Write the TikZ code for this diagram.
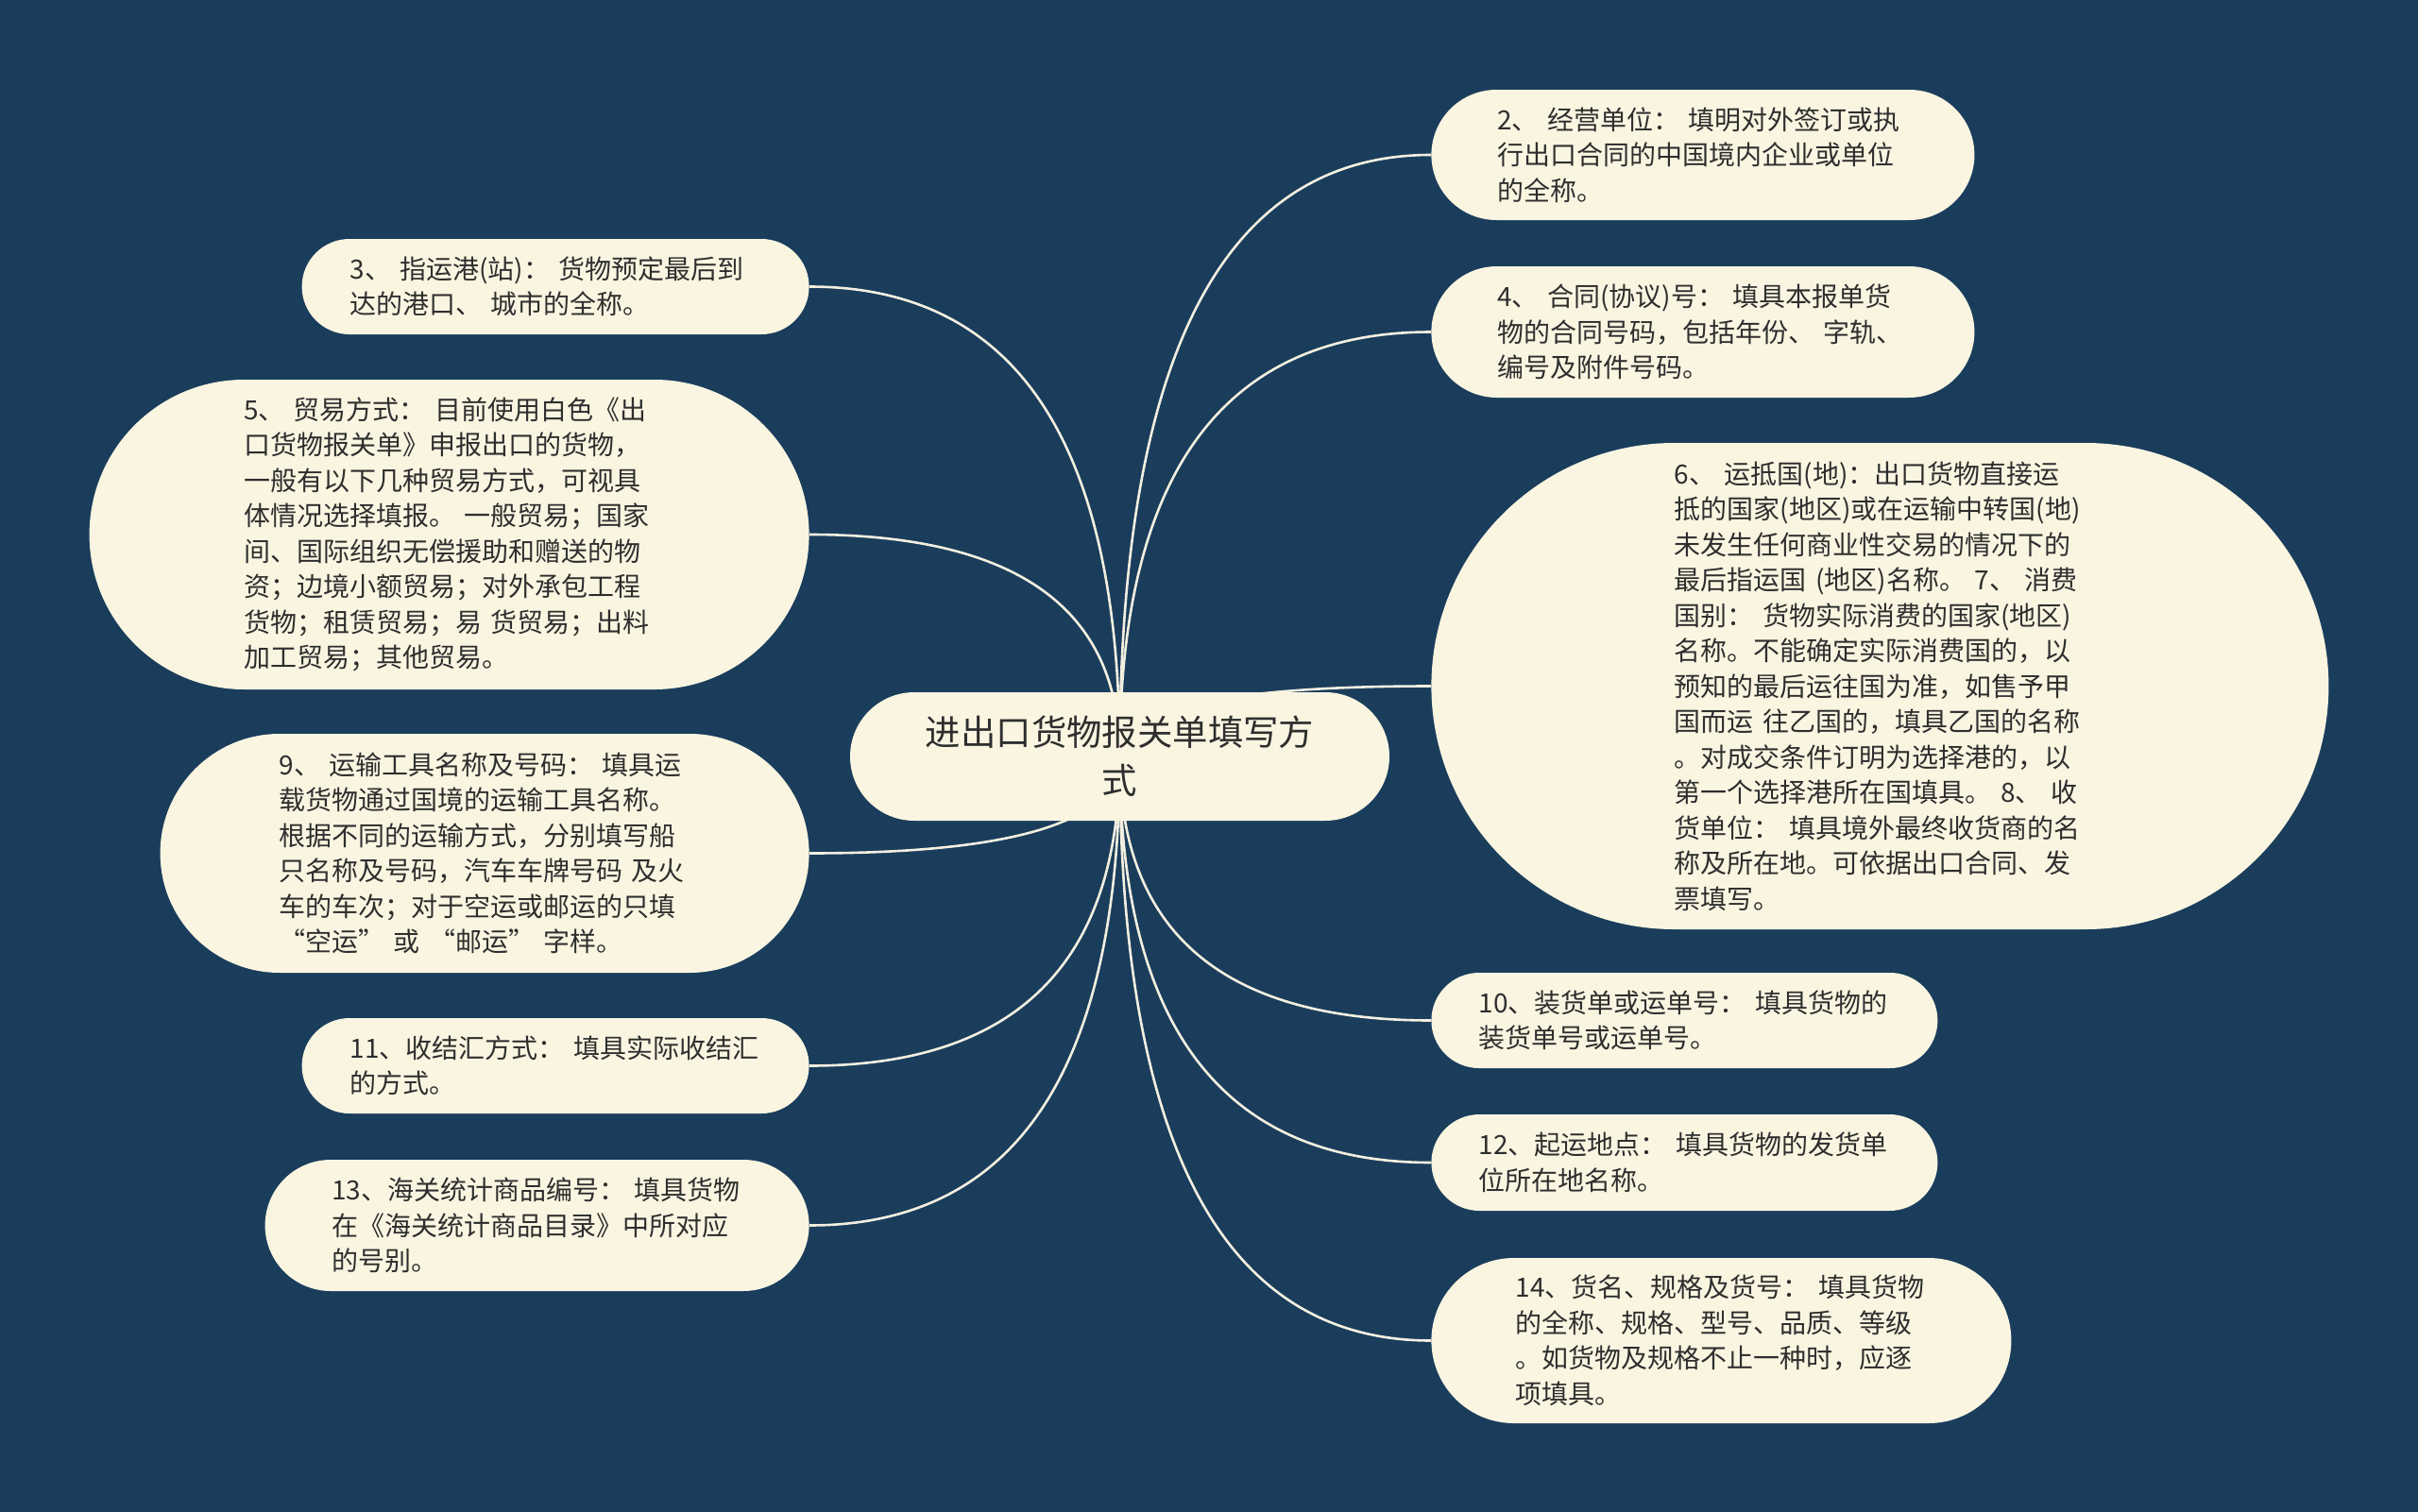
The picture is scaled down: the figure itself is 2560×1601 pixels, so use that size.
\documentclass[tikz,border=0pt]{standalone}
\usepackage{fontspec}
\usepackage{tikz}
\usetikzlibrary{calc}
\newfontfamily\cjk{Noto Sans CJK SC}
\definecolor{diagrambg}{HTML}{1A3D5C}
\definecolor{diagramfill}{HTML}{FAF5E1}
\definecolor{diagramtext}{HTML}{2E2E2E}
\definecolor{diagramline}{HTML}{F3EFE0}
\pgfdeclarelayer{diagramback}
\pgfdeclarelayer{diagramlinks}
\pgfsetlayers{diagramback,diagramlinks,main}
\tikzset{
    diagramroot/.style={rectangle, fill=diagramfill, text=diagramtext, align=center, text width=217.5pt, inner sep=0pt, minimum width=285.5pt, minimum height=68pt, rounded corners=34pt, font=\cjk\fontsize{18.7pt}{25.3pt}\selectfont},
    diagramleaf/.style={rectangle, fill=diagramfill, text=diagramtext, align=left, text width=217.5pt, inner sep=0pt, font=\cjk\fontsize{14pt}{18.75pt}\selectfont},
    diagramlink/.style={draw=diagramline, line width=1.3pt}
}

\begin{document}
\begin{tikzpicture}[x=0.5pt, y=-0.5pt]
        \begin{pgfonlayer}{diagramback}
            \fill[diagrambg] (0,0) rectangle (2560,1601);
        \end{pgfonlayer}
        \node[diagramroot] (root) at (1185.5,801) {进出口货物报关单填写方\\式};
        % right side
        \node[diagramleaf, anchor=west, minimum width=287.5pt, minimum height=69pt, rounded corners=34.5pt] (n2) at (1515,164) {2、 经营单位： 填明对外签订或执\\行出口合同的中国境内企业或单位\\的全称。};
        \node[diagramleaf, anchor=west, minimum width=287.5pt, minimum height=69.5pt, rounded corners=34.75pt] (n4) at (1515,351.5) {4、 合同(协议)号： 填具本报单货\\物的合同号码，包括年份、 字轨、\\编号及附件号码。};
        \node[diagramleaf, anchor=west, minimum width=475pt, minimum height=257.5pt, rounded corners=128.75pt] (n6) at (1515,726.5) {6、 运抵国(地)：出口货物直接运\\抵的国家(地区)或在运输中转国(地)\\未发生任何商业性交易的情况下的\\最后指运国 (地区)名称。 7、 消费\\国别： 货物实际消费的国家(地区)\\名称。不能确定实际消费国的，以\\预知的最后运往国为准，如售予甲\\国而运 往乙国的，填具乙国的名称\\。对成交条件订明为选择港的，以\\第一个选择港所在国填具。 8、 收\\货单位： 填具境外最终收货商的名\\称及所在地。可依据出口合同、发\\票填写。};
        \node[diagramleaf, anchor=west, minimum width=268pt, minimum height=50.5pt, rounded corners=25.25pt] (n10) at (1515,1080.5) {10、装货单或运单号： 填具货物的\\装货单号或运单号。};
        \node[diagramleaf, anchor=west, minimum width=268pt, minimum height=51pt, rounded corners=25.5pt] (n12) at (1515,1231) {12、起运地点： 填具货物的发货单\\位所在地名称。};
        \node[diagramleaf, anchor=west, minimum width=307pt, minimum height=87.5pt, rounded corners=43.75pt] (n14) at (1515,1419.5) {14、货名、规格及货号： 填具货物\\的全称、规格、型号、品质、等级\\。如货物及规格不止一种时，应逐\\项填具。};
        % left side
        \node[diagramleaf, anchor=east, minimum width=268.5pt, minimum height=50.5pt, rounded corners=25.25pt] (n3) at (857,303.5) {3、 指运港(站)： 货物预定最后到\\达的港口、 城市的全称。};
        \node[diagramleaf, anchor=east, minimum width=381pt, minimum height=164pt, rounded corners=82pt] (n5) at (857,566) {5、 贸易方式： 目前使用白色《出\\口货物报关单》申报出口的货物，\\一般有以下几种贸易方式，可视具\\体情况选择填报。 一般贸易；国家\\间、国际组织无偿援助和赠送的物\\资；边境小额贸易；对外承包工程\\货物；租赁贸易；易 货贸易；出料\\加工贸易；其他贸易。};
        \node[diagramleaf, anchor=east, minimum width=343.5pt, minimum height=126.5pt, rounded corners=63.25pt] (n9) at (857,903.5) {9、 运输工具名称及号码： 填具运\\载货物通过国境的运输工具名称。\\根据不同的运输方式，分别填写船\\只名称及号码，汽车车牌号码 及火\\车的车次；对于空运或邮运的只填\\ “空运” 或 “邮运” 字样。};
        \node[diagramleaf, anchor=east, minimum width=268.5pt, minimum height=50.5pt, rounded corners=25.25pt] (n11) at (857,1128.5) {11、收结汇方式： 填具实际收结汇\\的方式。};
        \node[diagramleaf, anchor=east, minimum width=288pt, minimum height=69.5pt, rounded corners=34.75pt] (n13) at (857,1297.5) {13、海关统计商品编号： 填具货物\\在《海关统计商品目录》中所对应\\的号别。};
        % branches
        \begin{pgfonlayer}{diagramlinks}
            \foreach \leaf/\tip in {n2/west,n4/west,n6/west,n10/west,n12/west,n14/west,n3/east,n5/east,n9/east,n11/east,n13/east}
                \draw[diagramlink, rounded corners=0pt] (root.center) .. controls ($(root.center)!0.667!(root.center |- \leaf.\tip)$) and ($(\leaf.\tip)!0.667!(root.center |- \leaf.\tip)$) .. (\leaf.\tip);
        \end{pgfonlayer}
\end{tikzpicture}
\end{document}
